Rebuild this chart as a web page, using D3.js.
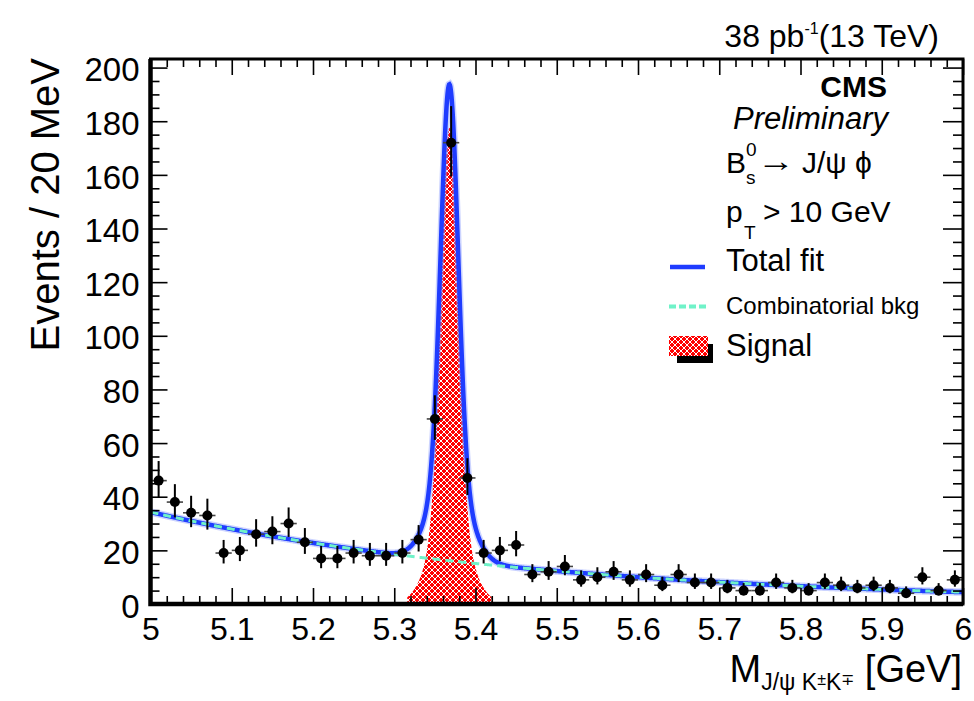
<!DOCTYPE html>
<html>
<head>
<meta charset="utf-8">
<script src="https://cdn.jsdelivr.net/npm/d3@7"></script>
<style>
  html, body { margin: 0; padding: 0; background: #fff; }
  svg { display: block; font-family: "Liberation Sans", Arial, Helvetica, sans-serif; }
</style>
</head>
<body>
<svg id="chart" width="974" height="701"></svg>
<script>
// ---------------- data ----------------
const massBins = [5.01,5.03,5.05,5.07,5.09,5.11,5.13,5.15,5.17,5.19,
                  5.21,5.23,5.25,5.27,5.29,5.31,5.33,5.35,5.37,5.39,
                  5.41,5.43,5.45,5.47,5.49,5.51,5.53,5.55,5.57,5.59,
                  5.61,5.63,5.65,5.67,5.69,5.71,5.73,5.75,5.77,5.79,
                  5.81,5.83,5.85,5.87,5.89,5.91,5.93,5.95,5.97,5.99];
const counts   = [46,38,34,33,19,20,26,27,30,23,
                  17,17,19,18,18,19,24,69,172,47,
                  19,20,22,11,12,14,9,10,12,9,
                  11,7,11,8,8,6,5,5,8,6,
                  5,8,7,6,7,6,4,10,5,9];
const binHalfWidth = 0.01;
// fit parameters
const bkgParams = [34.3, 2.05];                 // amplitude at 5.0 GeV, exponential slope
const sigParams = [177.6, 5.3679, 0.0105, 0.023, 0.18]; // peak, mean, sigma1, sigma2, wide fraction
const signalRange = [5.316, 5.42];
const xTicks = [5, 5.1, 5.2, 5.3, 5.4, 5.5, 5.6, 5.7, 5.8, 5.9, 6];
const yTicks = [0, 20, 40, 60, 80, 100, 120, 140, 160, 180, 200];
const xDomain = [5, 6];
const yDomain = [0, 203.2];

// ---------------- layout ----------------
const svg = d3.select("#chart");
const L = 150.5, R = 963, T = 59, B = 604;
const x = d3.scaleLinear().domain(xDomain).range([L, R]);
const y = d3.scaleLinear().domain(yDomain).range([B, T]);

const defs = svg.append("defs");
const pat = defs.append("pattern").attr("id", "hatch")
  .attr("patternUnits", "userSpaceOnUse").attr("width", 6).attr("height", 6);
pat.append("rect").attr("width", 6).attr("height", 6).attr("fill", "#ff0000");
pat.append("path").attr("d", "M0,0L6,6M6,0L0,6")
  .attr("stroke", "#ffffff").attr("stroke-width", 1.1).attr("shape-rendering", "crispEdges");
defs.append("clipPath").attr("id", "plotclip").append("rect")
  .attr("x", L).attr("y", T).attr("width", R - L).attr("height", B - T);

const bkg = m => bkgParams[0] * Math.exp(-bkgParams[1] * (m - 5));
const sig = m => {
  const [A, mu, s1, s2, f] = sigParams;
  const d = m - mu;
  return A * ((1 - f) * Math.exp(-d * d / (2 * s1 * s1)) + f * Math.exp(-d * d / (2 * s2 * s2)));
};
const grid = d3.range(0, 2001).map(i => xDomain[0] + i * (xDomain[1] - xDomain[0]) / 2000);

const plot = svg.append("g").attr("clip-path", "url(#plotclip)");

// signal hatched area
const sigGrid = grid.filter(m => m >= signalRange[0] && m <= signalRange[1]);
plot.append("path").datum(sigGrid)
  .attr("d", d3.area().x(m => x(m)).y0(y(0)).y1(m => y(sig(m))))
  .attr("fill", "url(#hatch)");

// total fit
const totalLine = d3.line().x(m => x(m)).y(m => y(bkg(m) + sig(m)));
plot.append("path").datum(grid).attr("d", totalLine)
  .attr("fill", "none").attr("stroke", "#8fa0ff").attr("stroke-opacity", 0.45).attr("stroke-width", 7.5);
plot.append("path").datum(grid).attr("d", totalLine)
  .attr("fill", "none").attr("stroke", "#1f3cff").attr("stroke-width", 4.5);

// background (dashed)
plot.append("path").datum(grid)
  .attr("d", d3.line().x(m => x(m)).y(m => y(bkg(m))))
  .attr("fill", "none").attr("stroke", "#6ff2c8").attr("stroke-width", 3)
  .attr("stroke-dasharray", "8,5");

// data points
const pts = svg.append("g");
const pois = n => { const s = Math.sqrt(n + 0.25); return [n - (s - 0.5), n + (s + 0.5)]; };
massBins.forEach((m, i) => {
  const n = counts[i];
  const [lo, hi] = pois(n);
  pts.append("line").attr("x1", x(m - binHalfWidth)).attr("x2", x(m + binHalfWidth))
    .attr("y1", y(n)).attr("y2", y(n)).attr("stroke", "#444").attr("stroke-width", 1.6);
  pts.append("line").attr("x1", x(m)).attr("x2", x(m))
    .attr("y1", y(lo)).attr("y2", y(Math.min(hi, yDomain[1]))).attr("stroke", "#000").attr("stroke-width", 2);
  pts.append("circle").attr("cx", x(m)).attr("cy", y(n)).attr("r", 5).attr("fill", "#000");
});

// ---------------- axes ----------------
const xMinor = d3.range(0, 51).map(i => 5 + i * 0.02).filter(v => !xTicks.some(t => Math.abs(t - v) < 1e-6));
const yMinor = d3.range(0, 41).map(i => i * 5).filter(v => v % 20 !== 0);

function styleAxis(g) {
  g.select(".domain").remove();
  g.selectAll("line").attr("stroke", "#000").attr("stroke-width", 1.6);
}
const fmtX = d => d3.format("")(+d.toFixed(1));

svg.append("g").attr("transform", `translate(0,${B})`)
  .call(d3.axisBottom(x).tickValues(xTicks).tickSize(-16).tickPadding(13).tickFormat(fmtX))
  .call(styleAxis)
  .call(g => g.selectAll("text").attr("font-size", 32).attr("fill", "#000").attr("font-family", "Liberation Sans, Arial, sans-serif"));
svg.append("g").attr("transform", `translate(0,${B})`)
  .call(d3.axisBottom(x).tickValues(xMinor).tickSize(-8).tickFormat(""))
  .call(styleAxis);
svg.append("g").attr("transform", `translate(0,${T})`)
  .call(d3.axisTop(x).tickValues(xTicks).tickSize(-16).tickFormat(""))
  .call(styleAxis);
svg.append("g").attr("transform", `translate(0,${T})`)
  .call(d3.axisTop(x).tickValues(xMinor).tickSize(-8).tickFormat(""))
  .call(styleAxis);

svg.append("g").attr("transform", `translate(${L},0)`)
  .call(d3.axisLeft(y).tickValues(yTicks).tickSize(-17).tickPadding(11))
  .call(styleAxis)
  .call(g => g.selectAll("text").attr("font-size", 33).attr("fill", "#000").attr("font-family", "Liberation Sans, Arial, sans-serif").attr("dy", "0.4em"));
svg.append("g").attr("transform", `translate(${L},0)`)
  .call(d3.axisLeft(y).tickValues(yMinor).tickSize(-9).tickFormat(""))
  .call(styleAxis);
svg.append("g").attr("transform", `translate(${R},0)`)
  .call(d3.axisRight(y).tickValues(yTicks).tickSize(-20).tickFormat(""))
  .call(styleAxis);
svg.append("g").attr("transform", `translate(${R},0)`)
  .call(d3.axisRight(y).tickValues(yMinor).tickSize(-10).tickFormat(""))
  .call(styleAxis);

// frame
svg.append("rect").attr("x", L).attr("y", T).attr("width", R - L).attr("height", B - T)
  .attr("fill", "none").attr("stroke", "#000").attr("stroke-width", 3);
svg.append("path").attr("d", `M${L},${T}V${B}H${R}`).attr("fill", "none")
  .attr("stroke", "#000").attr("stroke-width", 4.5);

// ---------------- texts ----------------
// y title
svg.append("text").attr("transform", "translate(59,58) rotate(-90)")
  .attr("text-anchor", "end").attr("font-size", 40).text("Events / 20 MeV");

// x title
const xt = svg.append("text").attr("x", 962).attr("y", 682).attr("text-anchor", "end").attr("font-size", 38);
xt.append("tspan").text("M");
xt.append("tspan").attr("font-size", 23).attr("dy", 8).text("J/ψ K");
xt.append("tspan").attr("font-size", 16).attr("dy", -5).text("±");
xt.append("tspan").attr("font-size", 23).attr("dy", 5).text("K");
xt.append("tspan").attr("font-size", 16).attr("dy", -5).text("∓");
xt.append("tspan").attr("dy", -3).text(" [GeV]");

// lumi
const lt = svg.append("text").attr("x", 939).attr("y", 47).attr("text-anchor", "end").attr("font-size", 32);
lt.append("tspan").text("38 pb");
lt.append("tspan").attr("font-size", 16).attr("dy", -13).text("-1");
lt.append("tspan").attr("dy", 13).text("(13 TeV)");

// CMS label
svg.append("text").attr("x", 887).attr("y", 97).attr("text-anchor", "end")
  .attr("font-size", 30).attr("font-weight", "bold").text("CMS");
svg.append("text").attr("x", 888).attr("y", 129).attr("text-anchor", "end")
  .attr("font-size", 31).attr("font-style", "italic").text("Preliminary");

// decay
svg.append("text").attr("x", 726).attr("y", 173).attr("font-size", 30).text("B");
svg.append("text").attr("x", 746).attr("y", 156).attr("font-size", 19).text("0");
svg.append("text").attr("x", 746).attr("y", 184).attr("font-size", 19).text("s");
svg.append("text").attr("x", 757).attr("y", 171).attr("font-size", 30)
  .attr("textLength", 38).attr("lengthAdjust", "spacingAndGlyphs").text("→");
svg.append("text").attr("x", 802).attr("y", 173).attr("font-size", 30).text("J/ψ ϕ");

// pT cut
svg.append("text").attr("x", 726).attr("y", 222).attr("font-size", 30).text("p");
svg.append("text").attr("x", 744).attr("y", 239).attr("font-size", 19).text("T");
svg.append("text").attr("x", 763).attr("y", 222).attr("font-size", 30).text("> 10 GeV");

// legend
svg.append("line").attr("x1", 670).attr("x2", 705).attr("y1", 267).attr("y2", 267)
  .attr("stroke", "#1f3cff").attr("stroke-width", 4.5);
svg.append("text").attr("x", 726).attr("y", 271).attr("font-size", 31).text("Total fit");

svg.append("line").attr("x1", 669).attr("x2", 706).attr("y1", 306.5).attr("y2", 306.5)
  .attr("stroke", "#6ff2c8").attr("stroke-width", 4).attr("stroke-dasharray", "7,3");
svg.append("text").attr("x", 726).attr("y", 314).attr("font-size", 24).text("Combinatorial bkg");

svg.append("rect").attr("x", 677).attr("y", 344).attr("width", 36).attr("height", 19).attr("fill", "#000");
svg.append("rect").attr("x", 669).attr("y", 336).attr("width", 39).attr("height", 20)
  .attr("fill", "url(#hatch)");
svg.append("text").attr("x", 726).attr("y", 356).attr("font-size", 31).text("Signal");
</script>
</body>
</html>
